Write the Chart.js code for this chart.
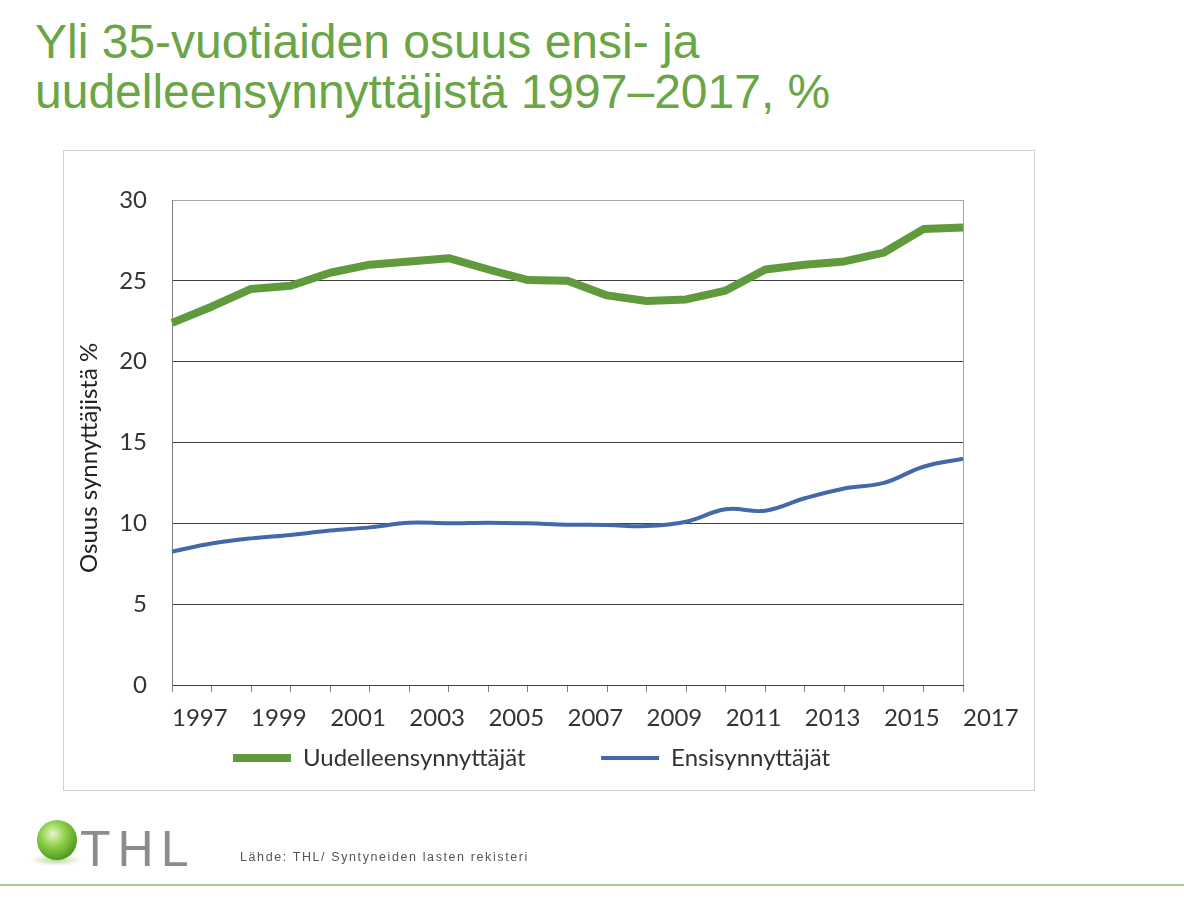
<!DOCTYPE html>
<html lang="fi">
<head>
<meta charset="utf-8">
<title>Yli 35-vuotiaiden osuus</title>
<script src="https://cdn.jsdelivr.net/npm/chart.js@4"></script>
<style>
  html, body { margin: 0; padding: 0; background: #fff; }
  body { width: 1184px; height: 908px; position: relative; overflow: hidden; font-family: 'Liberation Sans', Arial, sans-serif; }
  #title { position: absolute; left: 35px; top: 17px; margin: 0; font-weight: normal; font-size: 48px; line-height: 50px; color: #6aa546; }
  #frame { position: absolute; left: 63px; top: 150px; width: 970px; height: 639px; border: 1px solid #d2d2d2; }
  #wrap { position: absolute; left: 0; top: 0; width: 1184px; height: 908px; }
  #logo { position: absolute; left: 37px; top: 820px; width: 40px; height: 40px; border-radius: 50%;
          background: radial-gradient(circle at 40% 35%, #e6f7c8 0%, #8fd04a 35%, #4c9a1e 75%, #2f6d10 100%); }
  #logoShadow { position: absolute; left: 30px; top: 854px; width: 52px; height: 12px; border-radius: 50%;
          background: radial-gradient(ellipse at center, rgba(120,180,70,0.55) 0%, rgba(120,180,70,0) 70%); }
  #thl { position: absolute; left: 80px; top: 824px; font-size: 50px; line-height: 50px; color: #8c8c8c; letter-spacing: 7px; }
  #source { position: absolute; left: 240px; top: 850px; font-size: 12.5px; color: #555; letter-spacing: 1.6px; }
  #rule { position: absolute; left: 0; top: 884px; width: 1184px; height: 2px; background: #a8c98c; }
</style>
</head>
<body>
<h1 id="title">Yli 35-vuotiaiden osuus ensi- ja<br>uudelleensynnyttäjistä 1997–2017, %</h1>
<div id="frame"></div>
<div id="wrap"><canvas id="chart"></canvas></div>
<div id="logoShadow"></div>
<div id="logo"></div>
<div id="thl">THL</div>
<div id="source">Lähde: THL/ Syntyneiden lasten rekisteri</div>
<div id="rule"></div>

<script>
const years = ['1997', '1998', '1999', '2000', '2001', '2002', '2003', '2004', '2005', '2006', '2007',
               '2008', '2009', '2010', '2011', '2012', '2013', '2014', '2015', '2016', '2017'];
const uudelleensynnyttajat = [22.4, 23.4, 24.5, 24.7, 25.5, 26.0, 26.2, 26.4, 25.7, 25.05, 25.0,
                              24.1, 23.75, 23.85, 24.4, 25.7, 26.0, 26.2, 26.75, 28.2, 28.3];
const ensisynnyttajat = [8.25, 8.75, 9.07, 9.28, 9.55, 9.75, 10.04, 10.0, 10.04, 10.0, 9.92,
                         9.9, 9.83, 10.1, 10.87, 10.78, 11.55, 12.16, 12.5, 13.5, 14.0];
const yTicks = [0, 5, 10, 15, 20, 25, 30];

const GREEN = '#5f9b3d';
const BLUE = '#4469a9';
const TEXT = '#333';
const FONT = 'Lato';

// right edge of the plot area is a thin grey line
const plotFrame = {
  id: 'plotFrame',
  beforeDatasetsDraw(chart) {
    const { ctx, chartArea: a } = chart;
    ctx.save();
    ctx.strokeStyle = '#a6a6a6';
    ctx.lineWidth = 1;
    ctx.beginPath();
    ctx.moveTo(Math.round(a.right) + 0.5, a.top);
    ctx.lineTo(Math.round(a.right) + 0.5, a.bottom);
    ctx.stroke();
    ctx.restore();
  }
};

const ctx = document.getElementById('chart').getContext('2d');
new Chart(ctx, {
  type: 'line',
  data: {
    labels: years,
    datasets: [
      {
        label: 'Uudelleensynnyttäjät',
        data: uudelleensynnyttajat,
        borderColor: GREEN,
        backgroundColor: GREEN,
        borderWidth: 8,
        tension: 0,
        pointRadius: 0,
        borderJoinStyle: 'round',
      },
      {
        label: 'Ensisynnyttäjät',
        data: ensisynnyttajat,
        borderColor: BLUE,
        backgroundColor: BLUE,
        borderWidth: 4,
        tension: 0.4,
        pointRadius: 0,
      }
    ]
  },
  options: {
    responsive: true,
    maintainAspectRatio: false,
    animation: false,
    layout: { padding: { left: 100, top: 200, right: 221, bottom: 128 } },
    plugins: {
      tooltip: { enabled: false },
      legend: {
        position: 'bottom',
        labels: {
          usePointStyle: true,
          pointStyle: 'line',
          pointStyleWidth: 58,
          boxWidth: 58,
          padding: 14,
          color: TEXT,
          font: { family: FONT, size: 24 },
          // widen the gap after the first entry like in the original legend
          generateLabels: (chart) => {
            const items = Chart.defaults.plugins.legend.labels.generateLabels(chart);
            items[0].text += '          ';
            return items;
          }
        }
      }
    },
    scales: {
      x: {
        offset: false,
        afterFit: (s) => { s.height = 47; },
        grid: { display: true, drawOnChartArea: false, drawTicks: true, tickLength: 7, color: '#808080' },
        border: { color: '#404040', width: 1 },
        ticks: {
          autoSkip: false,
          maxRotation: 0,
          align: 'start',
          padding: 12,
          color: TEXT,
          font: { family: FONT, size: 24 },
          callback: (v, i) => (i % 2 === 0 ? years[i] : ''),
        }
      },
      y: {
        min: yTicks[0],
        max: yTicks[yTicks.length - 1],
        afterFit: (s) => { s.width = 72; },
        afterBuildTicks: (s) => { s.ticks = yTicks.map(v => ({ value: v })); },
        grid: {
          drawTicks: false,
          color: (c) => (c.tick && c.tick.value === 30 ? '#a6a6a6' : '#404040'),
        },
        border: { color: '#808080', width: 1 },
        ticks: { padding: 25, color: TEXT, font: { family: FONT, size: 24 } },
        title: {
          display: true,
          text: 'Osuus synnyttäjistä %     ',
          color: '#222',
          font: { family: FONT, size: 24 },
          padding: { top: -25, bottom: 0 },
        }
      }
    }
  },
  plugins: [plotFrame]
});
</script>
</body>
</html>
